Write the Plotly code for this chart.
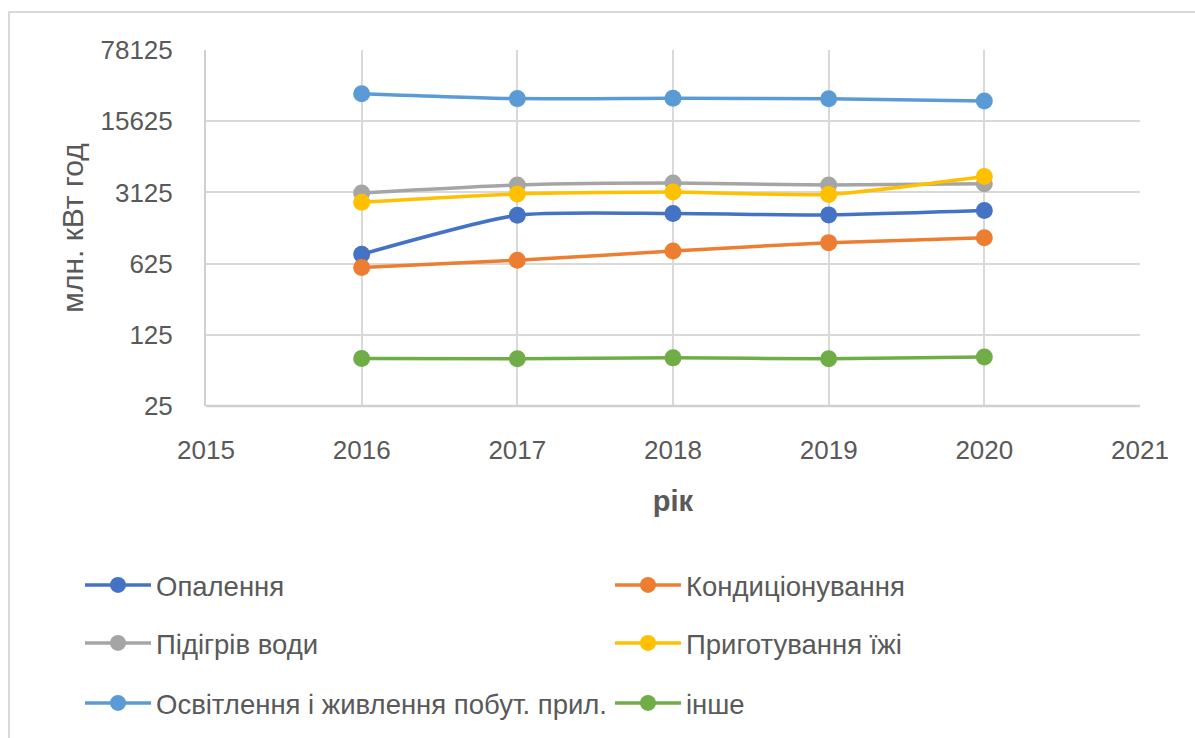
import plotly.graph_objects as go

# Electricity consumption by end use, mln kWh
years = [2016, 2017, 2018, 2019, 2020]
heating = [771, 1865, 1937, 1880, 2071]
cooling = [572, 674, 831, 1004, 1123]
water_heating = [3083, 3690, 3860, 3690, 3800]
cooking = [2497, 3015, 3153, 2988, 4476]
lighting = [29130, 26030, 26220, 26000, 24660]
other = [73.0, 72.7, 74.2, 72.7, 75.8]

series_names = ["Опалення", "Кондиціонування", "Підігрів води",
                "Приготування їжі", "Освітлення і живлення побут. прил.", "інше"]
series_values = [heating, cooling, water_heating, cooking, lighting, other]
series_colors = ["#4472C4", "#ED7D31", "#A5A5A5", "#FFC000", "#5B9BD5", "#70AD47"]
# two legend entries per row
series_legend = ["legend", "legend", "legend2", "legend2", "legend3", "legend3"]

y_ticks = [25, 125, 625, 3125, 15625, 78125]
x_ticks = [2015, 2016, 2017, 2018, 2019, 2020, 2021]

W, H = 1195, 738
L, R, T, B = 206, 55, 50, 331
FONT = "Liberation Sans"
TXT = "#595959"

fig = go.Figure()
for name, vals, col, lg in zip(series_names, series_values, series_colors, series_legend):
    fig.add_trace(go.Scatter(
        x=years, y=vals, name=name, mode="lines+markers", legend=lg,
        line=dict(color=col, width=3.5, shape="spline", smoothing=0.6),
        marker=dict(color=col, size=17),
    ))

pw, ph = W - L - R, H - T - B


def px_x(v):
    return (v - L) / pw


def px_y(v):
    return (H - B - v) / ph


def legend_row(y_px):
    return dict(
        orientation="h", x=px_x(80), y=px_y(y_px), xanchor="left", yanchor="middle",
        entrywidth=449, itemwidth=66,
        font=dict(family=FONT, size=27.5, color=TXT),
        bgcolor="rgba(0,0,0,0)",
    )


fig.update_layout(
    width=W, height=H,
    margin=dict(l=L, r=R, t=T, b=B),
    paper_bgcolor="white", plot_bgcolor="white",
    font=dict(family=FONT, color=TXT, size=24),
    showlegend=True,
    legend=legend_row(585),
    legend2=legend_row(643),
    legend3=legend_row(703),
    xaxis=dict(
        range=[2015, 2021], tickvals=x_ticks, ticks="",
        showgrid=True, gridcolor="#D9D9D9", gridwidth=2,
        showline=False, zeroline=False, ticklabelstandoff=26,
        tickfont=dict(size=26, color=TXT),
        title=dict(text="<b>рік</b>", font=dict(size=29, color=TXT), standoff=26),
    ),
    yaxis=dict(
        type="log", range=[1.39794, 4.892790], tickvals=y_ticks,
        ticktext=[str(v) for v in y_ticks], ticks="",
        showgrid=True, gridcolor="#D9D9D9", gridwidth=2,
        showline=True, linecolor="#D0D0D0", linewidth=2,
        zeroline=False, ticklabelstandoff=26,
        tickfont=dict(size=26, color=TXT),
        title=dict(text="млн. кВт год", font=dict(size=30, color=TXT), standoff=8),
    ),
    shapes=[
        # chart border
        dict(type="rect", xref="paper", yref="paper",
             x0=px_x(9), x1=px_x(1210), y0=px_y(12), y1=px_y(760),
             line=dict(color="#D9D9D9", width=2), layer="below"),
        # bottom axis line
        dict(type="line", xref="paper", yref="paper",
             x0=0, x1=1, y0=0, y1=0,
             line=dict(color="#D0D0D0", width=2.5)),
    ],
)

fig.write_html("out.html")
